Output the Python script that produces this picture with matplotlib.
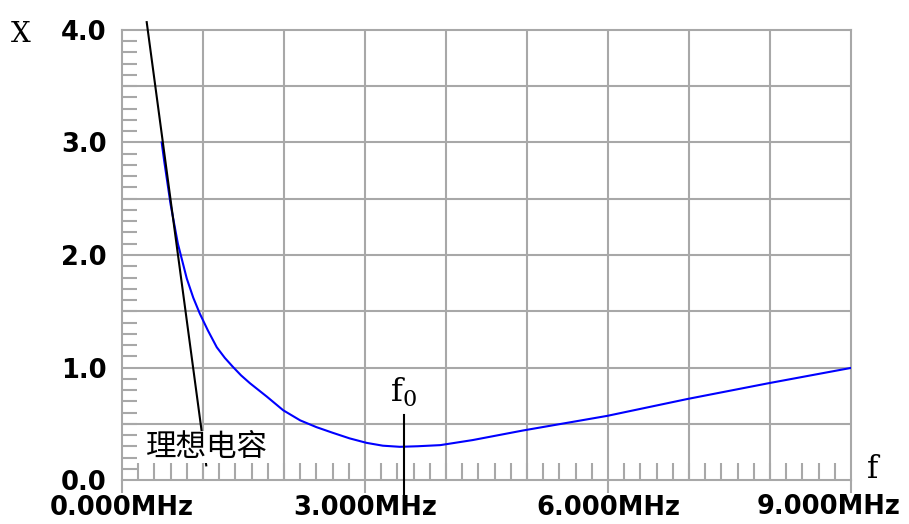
import matplotlib.pyplot as plt
import numpy as np

plt.rcParams['mathtext.fontset'] = 'dejavuserif'

# blue curve: measured reactance X vs frequency (MHz)
freq = [0.49, 0.52, 0.60, 0.69, 0.80, 0.88, 0.96, 1.06, 1.17, 1.27, 1.37, 1.47, 1.58,
        1.79, 1.99, 2.20, 2.40, 2.60, 2.81, 3.02, 3.22, 3.43, 3.65, 3.93, 4.33, 4.95,
        5.99, 6.98, 7.98, 8.99]
react = [3.00, 2.84, 2.45, 2.10, 1.79, 1.62, 1.48, 1.33, 1.18, 1.085, 1.005, 0.93, 0.86,
         0.74, 0.62, 0.53, 0.47, 0.42, 0.37, 0.33, 0.305, 0.295, 0.30, 0.31, 0.355, 0.44,
         0.57, 0.72, 0.86, 0.995]

# black line: ideal capacitor
ideal_f = [0.305, 1.04]
ideal_x = [4.07, 0.13]

f0 = 3.48
x_ticks = [0, 3, 6, 9]
x_labels = ['0.000MHz', '3.000MHz', '6.000MHz', '9.000MHz']
y_ticks = [0, 1, 2, 3, 4]
y_labels = ['0.0', '1.0', '2.0', '3.0', '4.0']

grey = '#a8a8a8'
tick_font = dict(fontsize=18.5, fontweight='bold', family='DejaVu Sans')

fig = plt.figure(figsize=(9.09, 5.24), dpi=100)
ax = fig.add_axes([122 / 909, 44 / 524, 729 / 909, 450 / 524])
ax.set_xlim(0, 9)
ax.set_ylim(0, 4)

for v in np.arange(1, 9):
    ax.axvline(v, color=grey, lw=1.5, zorder=1)
for h in np.arange(0.5, 4.0, 0.5):
    ax.axhline(h, color=grey, lw=1.5, zorder=1)
for s in ax.spines.values():
    s.set_color(grey)
    s.set_linewidth(1.5)

ax.set_xticks(x_ticks)
# last label is pulled left so it fits inside the picture
ax.set_xticklabels(x_labels[:-1] + [''], **tick_font)
ax.annotate(x_labels[-1], xy=(x_ticks[-1], 0), xytext=(-22, -14),
            textcoords='offset pixels', ha='center', va='top', **tick_font)
ax.set_yticks(y_ticks)
ax.set_yticklabels(y_labels, **tick_font)
ax.set_xticks(np.arange(0, 9.01, 0.2), minor=True)
ax.set_yticks(np.arange(0, 4.01, 0.1), minor=True)
ax.tick_params(axis='x', which='major', direction='out', length=9, width=1.5,
               color=grey, pad=1.5)
ax.tick_params(axis='y', which='major', length=0, pad=11)
ax.tick_params(axis='x', which='minor', direction='in', length=12, width=1.5, color=grey)
ax.tick_params(axis='y', which='minor', direction='in', length=11, width=1.5, color=grey)

ax.plot(freq, react, color='#0000ff', lw=1.5, zorder=3)
ax.plot(ideal_f, ideal_x, color='black', lw=1.5, zorder=4, clip_on=False)

# f0 marker
ax.plot([f0, f0], [0.58, -0.12], color='black', lw=1.5, zorder=5, clip_on=False)
ax.text(f0, 0.78, r'$\mathrm{f}_{0}$', fontsize=23, ha='center', va='center',
        zorder=6, bbox=dict(facecolor='white', edgecolor='none', pad=2))

ax.text(1.05, 0.29, '理想电容', fontsize=22, ha='center', va='center',
        family=['Noto Sans CJK SC', 'DejaVu Sans'], zorder=6,
        bbox=dict(facecolor='white', edgecolor='none', pad=0.5))

fig.text(21 / 909, 1 - 34 / 524, 'X', fontsize=20, family='DejaVu Serif',
         ha='center', va='center')
fig.text(873 / 909, 1 - 469 / 524, 'f', fontsize=22, family='DejaVu Serif',
         ha='center', va='center')

fig.savefig('out.png', dpi=100)
